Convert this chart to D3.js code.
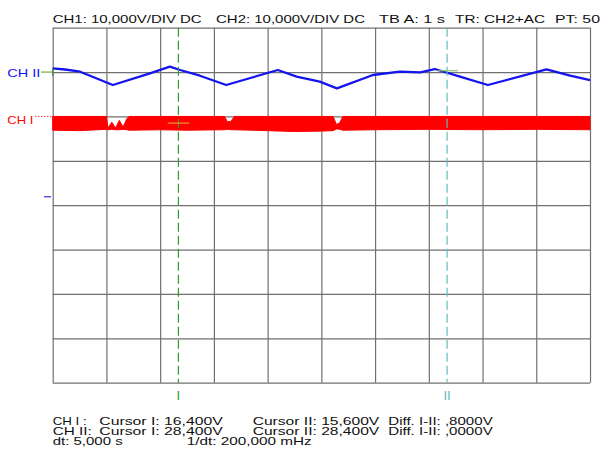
<!DOCTYPE html>
<html lang="en">
<head>
    <meta charset="UTF-8">
    <title>Scope capture</title>
    <script src="https://d3js.org/d3.v7.min.js"></script>
    <style>
        body { margin: 0; background: #fff; }
        svg { display: block; }
        text { font-family: "Liberation Sans", Arial, sans-serif; }
    </style>
</head>
<body>
    <svg></svg>
    <script>
        // time in seconds (10 div x 1 s), volts (8 div x 10 V, 0 at screen centre)
        const chIIt = [0, 0.23, 0.51, 1.12, 1.81, 2.18, 2.37, 2.74, 3.23, 4.19, 4.54, 4.97, 5.29, 5.96, 6.46, 6.84, 7.11, 7.58, 8.10, 9.19, 9.63, 10];
        const chIIv = [30.85, 30.58, 30.08, 27.09, 29.72, 31.21, 30.47, 29.18, 27.09, 30.47, 28.96, 27.84, 26.34, 29.34, 30.08, 29.95, 30.69, 28.96, 27.09, 30.62, 29.18, 28.21];

        // CH I is a noisy band: upper and lower envelope
        const chIt  = [0, 0.5, 1.0, 1.03, 1.1, 1.17, 1.24, 1.31, 1.38, 1.42, 2.0, 2.5, 3.2, 3.25, 3.32, 3.38, 4.0, 4.5, 5.0, 5.22, 5.28, 5.34, 5.4, 6.0, 7.0, 8.0, 9.0, 10];
        const chIhi = [20, 20, 20, 17.4, 18.7, 17.4, 19.1, 17.6, 19.5, 20, 20, 20, 20, 18.8, 18.9, 20, 20, 20, 20, 20, 18.2, 18.5, 20, 20, 20, 20, 20, 20];
        const chIlo = [16.9, 16.8, 17.1, 17.0, 17.1, 17.0, 17.0, 17.1, 17.0, 16.9, 17.0, 16.9, 17.0, 17.1, 17.0, 17.0, 16.8, 16.6, 16.7, 16.8, 17.2, 17.1, 16.9, 17.0, 17.1, 17.0, 17.1, 17.0];

        const cursorT = [2.34, 7.34];
        const cursorNames = ["I", "II"];
        const chIIref = 30;   // CH II marker level
        const chIref = 20;    // CH I marker level
        const trigLevel = 1.9;

        const header = [
            ["CH1: 10,000V/DIV DC", 52.7, 149],
            ["CH2: 10,000V/DIV DC", 216, 149],
            ["TB A: 1 s", 379, 66],
            ["TR: CH2+AC", 455, 90],
            ["PT: 50", 555, 45]
        ];
        const footer = [
            ["CH I :", 52.7, 425, 34],
            ["Cursor I: 16,400V", 99.3, 425, 123.4],
            ["Cursor II: 15,600V", 252.7, 425, 126.6],
            ["Diff. I-II: ,8000V", 388.3, 425, 104.4],
            ["CH II:", 52.7, 434.5, 39],
            ["Cursor I: 28,400V", 99.3, 434.5, 123.4],
            ["Cursor II: 28,400V", 252.7, 434.5, 126.6],
            ["Diff. I-II: ,0000V", 388.3, 434.5, 104.4],
            ["dt: 5,000 s", 52.7, 445, 70],
            ["1/dt: 200,000 mHz", 186.7, 445, 125]
        ];

        const W = 602, H = 451;
        const svg = d3.select("svg").attr("width", W).attr("height", H);

        const x = d3.scaleLinear().domain([0, 10]).range([52.7, 590]);
        const y = d3.scaleLinear().domain([-40, 40]).range([382.7, 27.7]);

        // grid from axes
        svg.append("g")
            .attr("transform", `translate(0,${y(-40)})`)
            .call(d3.axisBottom(x).tickValues(d3.range(0, 11)).tickSize(y(-40) - y(40)).tickFormat(""))
            .call(g => g.select(".domain").remove())
            .call(g => g.selectAll("line").attr("transform", `translate(0,${-(y(-40) - y(40))})`)
                .attr("stroke", "#707070").attr("stroke-width", 1.2));
        svg.append("g")
            .attr("transform", `translate(${x(0)},0)`)
            .call(d3.axisRight(y).tickValues(d3.range(-40, 41, 10)).tickSize(x(10) - x(0)).tickFormat(""))
            .call(g => g.select(".domain").remove())
            .call(g => g.selectAll("line").attr("stroke", "#707070").attr("stroke-width", 1.2));

        // CH I band
        const band = d3.range(chIt.length).map(i => ({ t: chIt[i], hi: chIhi[i], lo: chIlo[i] }));
        svg.append("path")
            .datum(band)
            .attr("fill", "#ff0000")
            .attr("stroke", "#ff0000")
            .attr("stroke-width", 1)
            .attr("d", d3.area().x(d => x(d.t)).y0(d => y(d.lo)).y1(d => y(d.hi)));

        // CH II trace
        const trace = d3.range(chIIt.length).map(i => ({ t: chIIt[i], v: chIIv[i] }));
        svg.append("path")
            .datum(trace)
            .attr("fill", "none")
            .attr("stroke", "#1414ee")
            .attr("stroke-width", 2.3)
            .attr("stroke-linejoin", "round")
            .attr("d", d3.line().x(d => x(d.t)).y(d => y(d.v)));

        // cursors
        const cursorColor = ["#2f9a2f", "#62bcbc"];
        cursorT.forEach((t, i) => {
            svg.append("line")
                .attr("x1", x(t)).attr("x2", x(t))
                .attr("y1", y(40)).attr("y2", y(-40))
                .attr("stroke", cursorColor[i])
                .attr("stroke-width", 1.2)
                .attr("stroke-dasharray", "9,4");
            svg.append("text")
                .attr("x", x(t)).attr("y", 400)
                .attr("text-anchor", "middle")
                .attr("font-size", 13)
                .attr("fill", cursorColor[i])
                .text(cursorNames[i]);
        });

        // small cursor crossing marks
        svg.append("line")
            .attr("x1", x(cursorT[0] - 0.2)).attr("x2", x(cursorT[0] + 0.2))
            .attr("y1", y(18.5)).attr("y2", y(18.5))
            .attr("stroke", "#e89a30").attr("stroke-width", 1.2);
        svg.append("line")
            .attr("x1", x(cursorT[1] - 0.18)).attr("x2", x(cursorT[1] + 0.2))
            .attr("y1", y(30.3)).attr("y2", y(30.3))
            .attr("stroke", "#8cc060").attr("stroke-width", 1.2);

        // channel markers
        svg.append("line")
            .attr("x1", 41).attr("x2", x(0))
            .attr("y1", y(chIIref)).attr("y2", y(chIIref))
            .attr("stroke", "#7caa3a").attr("stroke-width", 1.2);
        svg.append("line")
            .attr("x1", x(0)).attr("x2", x(0))
            .attr("y1", y(chIIref) - 4).attr("y2", y(chIIref) + 4)
            .attr("stroke", "#3a9a3a").attr("stroke-width", 1.2);
        svg.append("line")
            .attr("x1", 35).attr("x2", x(0))
            .attr("y1", y(chIref)).attr("y2", y(chIref))
            .attr("stroke", "#ff4040").attr("stroke-width", 1)
            .attr("stroke-dasharray", "1.5,1.5");
        svg.append("line")
            .attr("x1", 44).attr("x2", 51)
            .attr("y1", y(trigLevel)).attr("y2", y(trigLevel))
            .attr("stroke", "#3030e0").attr("stroke-width", 1.2);

        svg.append("text")
            .attr("x", 7.3).attr("y", y(chIIref) + 5.3)
            .attr("font-size", 11.5).attr("fill", "#1414ee")
            .attr("textLength", 33).attr("lengthAdjust", "spacingAndGlyphs")
            .text("CH II");
        svg.append("text")
            .attr("x", 7.3).attr("y", y(chIref) + 7.3)
            .attr("font-size", 11.5).attr("fill", "#ff0000")
            .attr("textLength", 26).attr("lengthAdjust", "spacingAndGlyphs")
            .text("CH I");

        // header and footer
        svg.append("g").selectAll("text")
            .data(header)
            .join("text")
            .attr("x", d => d[1]).attr("y", 23.3)
            .attr("font-size", 11.5).attr("fill", "#111")
            .attr("textLength", d => d[2]).attr("lengthAdjust", "spacingAndGlyphs")
            .text(d => d[0]);
        svg.append("g").selectAll("text")
            .data(footer)
            .join("text")
            .attr("x", d => d[1]).attr("y", d => d[2])
            .attr("font-size", 11).attr("fill", "#111")
            .attr("textLength", d => d[3]).attr("lengthAdjust", "spacingAndGlyphs")
            .text(d => d[0]);
    </script>
</body>
</html>
